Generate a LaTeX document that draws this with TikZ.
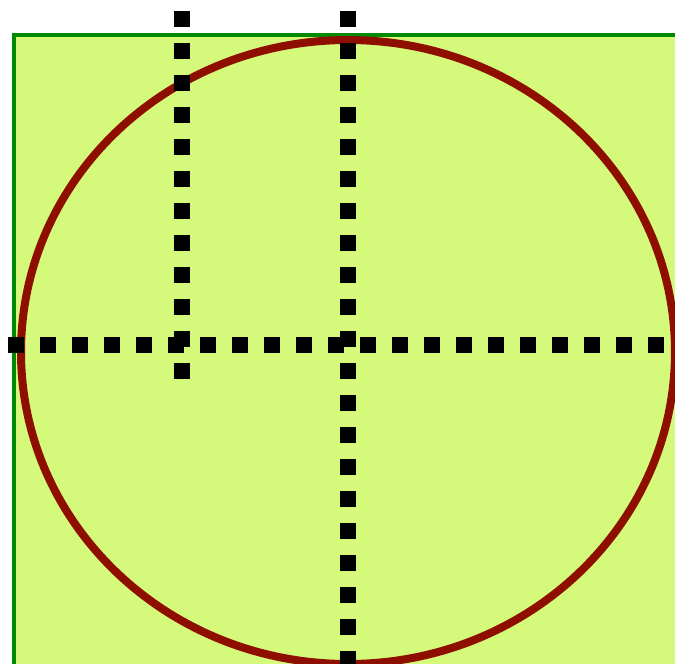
\documentclass[tikz,border=0pt]{standalone}
\definecolor{fillgreen}{RGB}{212,249,123}
\definecolor{edgegreen}{RGB}{0,138,0}
\definecolor{ringred}{RGB}{142,15,0}
\tikzset{
  squaredots/.style={line width=16pt, dash pattern=on 16pt off 16pt, line cap=butt, black},
}
\begin{document}
\begin{tikzpicture}[x=1pt,y=-1pt]
\useasboundingbox (0,0) rectangle (675,664);
\clip (0,0) rectangle (675,664);
% background panel
\draw[edgegreen, line width=4.8pt, fill=fillgreen] (14,35) rectangle (720,720);
% ring
\draw[ringred, line width=8pt] (348,352) ellipse [x radius=327, y radius=312];
% dotted guide lines
\coordinate (v1top) at (182,11);
\coordinate (v1bot) at (182,379);
\coordinate (v2top) at (347.5,11);
\coordinate (v2bot) at (347.5,700);
\coordinate (hl) at (8.3,344.7);
\coordinate (hr) at (665,344.7);
\draw[squaredots] (hl) -- (hr);
\draw[squaredots] (v1top) -- (v1bot);
\draw[squaredots] (v2top) -- (v2bot);
\end{tikzpicture}
\end{document}
